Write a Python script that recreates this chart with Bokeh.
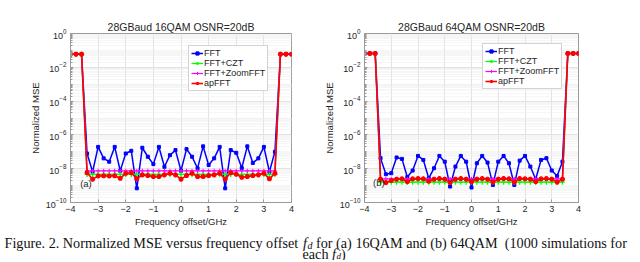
from bokeh.plotting import figure
from bokeh.layouts import row, column
from bokeh.models import FixedTicker, LogTickFormatter, Legend, LegendItem, Label, Range1d
from bokeh.embed import file_html
from bokeh.resources import INLINE

# ---------------- data ----------------
freq_ghz = [-4.0, -3.8, -3.6, -3.4, -3.2, -3.0, -2.8, -2.6, -2.4, -2.2, -2.0,
            -1.8, -1.6, -1.4, -1.2, -1.0, -0.8, -0.6, -0.4, -0.2, 0.0,
            0.2, 0.4, 0.6, 0.8, 1.0, 1.2, 1.4, 1.6, 1.8, 2.0,
            2.2, 2.4, 2.6, 2.8, 3.0, 3.2, 3.4, 3.6, 3.8, 4.0]

x_tick_values = [-4, -3, -2, -1, 0, 1, 2, 3, 4]
y_tick_values = [1e-10, 1e-8, 1e-6, 1e-4, 1e-2, 1e0]
series_names = ["FFT", "FFT+CZT", "FFT+ZoomFFT", "apFFT"]
titles = ["28GBaud 16QAM OSNR=20dB", "28GBaud 64QAM OSNR=20dB"]
panel_tags = ["(a)", "(b)"]
x_label = "Frequency offset/GHz"
y_label = "Normalized MSE"

# (a) 16QAM
fft_16 = [6.0e-2, 6.0e-2, 6.0e-2, 7.9e-8, 6.6e-9, 1.95e-7, 4.1e-8, 2.6e-8, 1.95e-7, 7.6e-9, 7.9e-8,
          1.15e-7, 6.9e-10, 1.74e-7, 5.1e-8, 1.86e-8, 1.95e-7, 1.3e-8, 6.3e-8, 1.26e-7, 7.6e-9,
          1.44e-7, 5.1e-8, 1.05e-8, 2.1e-7, 1.65e-8, 4.1e-8, 1.95e-7, 6.9e-10, 1.26e-7, 8.7e-8,
          1.1e-8, 2.1e-7, 2.2e-8, 4.1e-8, 1.95e-7, 6.6e-9, 1.0e-7, 6.0e-2, 6.0e-2, 6.0e-2]
czt_16 = [6.0e-2, 6.0e-2, 6.0e-2, 4.6e-9, 4.6e-9, 4.6e-9, 4.6e-9, 4.6e-9, 4.6e-9, 4.6e-9, 4.6e-9,
          4.6e-9, 4.6e-9, 4.6e-9, 4.6e-9, 4.6e-9, 4.6e-9, 4.6e-9, 4.6e-9, 4.6e-9, 4.6e-9,
          4.6e-9, 4.6e-9, 4.6e-9, 4.6e-9, 4.6e-9, 4.6e-9, 4.6e-9, 4.6e-9, 4.6e-9, 4.6e-9,
          4.6e-9, 4.6e-9, 4.6e-9, 4.6e-9, 4.6e-9, 4.6e-9, 4.6e-9, 6.0e-2, 6.0e-2, 6.0e-2]
zoom_16 = [6.0e-2, 6.0e-2, 6.0e-2, 7.5e-9, 7.5e-9, 7.5e-9, 7.5e-9, 7.5e-9, 7.5e-9, 7.5e-9, 7.5e-9,
           7.5e-9, 7.5e-9, 7.5e-9, 7.5e-9, 7.5e-9, 7.5e-9, 7.5e-9, 7.5e-9, 7.5e-9, 7.5e-9,
           7.5e-9, 7.5e-9, 7.5e-9, 7.5e-9, 7.5e-9, 7.5e-9, 7.5e-9, 7.5e-9, 7.5e-9, 7.5e-9,
           7.5e-9, 7.5e-9, 7.5e-9, 7.5e-9, 7.5e-9, 7.5e-9, 7.5e-9, 6.0e-2, 6.0e-2, 6.0e-2]
ap_16 = [6.0e-2, 6.0e-2, 6.0e-2, 5.8e-9, 2.4e-9, 3.7e-9, 3.8e-9, 3.7e-9, 3.8e-9, 2.7e-9, 5.3e-9,
         5.8e-9, 2.5e-9, 4.3e-9, 3.9e-9, 3.4e-9, 3.4e-9, 4.3e-9, 5.3e-9, 4.3e-9, 2.4e-9,
         3.9e-9, 5.3e-9, 3.4e-9, 3.4e-9, 3.9e-9, 4.3e-9, 5.3e-9, 2.4e-9, 5.8e-9, 4.7e-9,
         3.1e-9, 3.4e-9, 3.9e-9, 4.3e-9, 5.3e-9, 2.5e-9, 5.3e-9, 6.0e-2, 6.0e-2, 6.0e-2]

# (b) 64QAM
fft_64 = [6.6e-2, 6.6e-2, 6.6e-2, 4.2e-8, 4.7e-9, 5.4e-9, 4.6e-8, 3.8e-8, 3.2e-9, 7.8e-9, 5.7e-8,
          3.3e-8, 2.7e-9, 1.07e-8, 5.7e-8, 2.6e-8, 8.8e-10, 1.34e-8, 5.7e-8, 2.6e-8, 7.7e-10,
          2.1e-8, 5.7e-8, 2.3e-8, 1.1e-9, 2.6e-8, 5.7e-8, 2.1e-8, 1.1e-9, 3.0e-8, 5.7e-8,
          1.34e-8, 2.4e-9, 3.3e-8, 4.2e-8, 7.8e-9, 3.7e-9, 2.6e-8, 6.6e-2, 6.6e-2, 6.6e-2]
czt_64 = [6.6e-2, 6.6e-2, 6.6e-2, 1.6e-9, 1.6e-9, 1.6e-9, 1.6e-9, 1.6e-9, 1.6e-9, 1.6e-9, 1.6e-9,
          1.6e-9, 1.6e-9, 1.6e-9, 1.6e-9, 1.6e-9, 1.6e-9, 1.6e-9, 1.6e-9, 1.6e-9, 1.6e-9,
          1.6e-9, 1.6e-9, 1.6e-9, 1.6e-9, 1.6e-9, 1.6e-9, 1.6e-9, 1.6e-9, 1.6e-9, 1.6e-9,
          1.6e-9, 1.6e-9, 1.6e-9, 1.6e-9, 1.6e-9, 1.6e-9, 1.6e-9, 6.6e-2, 6.6e-2, 6.6e-2]
zoom_64 = [6.6e-2, 6.6e-2, 6.6e-2, 2.5e-9, 2.5e-9, 2.5e-9, 2.5e-9, 2.5e-9, 2.5e-9, 2.5e-9, 2.5e-9,
           2.5e-9, 2.5e-9, 2.5e-9, 2.5e-9, 2.5e-9, 2.5e-9, 2.5e-9, 2.5e-9, 2.5e-9, 2.5e-9,
           2.5e-9, 2.5e-9, 2.5e-9, 2.5e-9, 2.5e-9, 2.5e-9, 2.5e-9, 2.5e-9, 2.5e-9, 2.5e-9,
           2.5e-9, 2.5e-9, 2.5e-9, 2.5e-9, 2.5e-9, 2.5e-9, 2.5e-9, 6.6e-2, 6.6e-2, 6.6e-2]
ap_64 = [6.6e-2, 6.6e-2, 6.6e-2, 2.4e-9, 1.5e-9, 2.0e-9, 2.4e-9, 2.5e-9, 1.7e-9, 2.5e-9, 2.6e-9,
         2.5e-9, 1.8e-9, 2.4e-9, 2.6e-9, 2.4e-9, 1.5e-9, 2.4e-9, 2.6e-9, 2.4e-9, 1.7e-9,
         2.4e-9, 2.6e-9, 2.4e-9, 1.6e-9, 2.4e-9, 2.6e-9, 2.5e-9, 1.6e-9, 2.6e-9, 2.5e-9,
         2.4e-9, 1.7e-9, 2.5e-9, 2.6e-9, 2.4e-9, 1.6e-9, 2.4e-9, 6.6e-2, 6.6e-2, 6.6e-2]

caption_1a = "Figure. 2. Normalized MSE versus frequency offset"
caption_1b = "for (a) 16QAM and (b) 64QAM\u00a0 (1000 simulations for"
caption_2 = "each"

# ---------------- styling ----------------
SANS = "Liberation Sans"
SERIF = "Liberation Serif"
TXT = "#262626"
AX = "#9a9a9a"
GRID = "#e2e2e2"

y_minor = [m * 10.0 ** k for k in range(-10, 0) for m in range(1, 10)
           if not (m == 1 and k % 2 == 0)]


def make_panel(title, fft, czt, zoom, ap, left, right, tag, tag_x, tag_y, leg_loc):
    p = figure(width=320, height=229, x_range=Range1d(-4, 4), y_range=Range1d(1e-10, 1),
               y_axis_type="log", output_backend="svg", toolbar_location=None,
               min_border_left=left, min_border_right=right,
               min_border_top=33, min_border_bottom=26,
               background_fill_color="white", border_fill_color="white")
    p.title.text = title
    p.title.align = "center"
    p.title.text_font = SANS
    p.title.text_font_size = "10.5px"
    p.title.text_font_style = "normal"
    p.title.text_color = TXT
    p.title.standoff = 2

    p.xaxis.ticker = FixedTicker(ticks=x_tick_values)
    p.yaxis.ticker = FixedTicker(ticks=y_tick_values, minor_ticks=y_minor)
    p.yaxis.formatter = LogTickFormatter()
    p.xaxis.axis_label = x_label
    p.yaxis.axis_label = y_label
    for ax in (p.xaxis, p.yaxis):
        ax.axis_label_text_font = SANS
        ax.axis_label_text_font_size = "9.5px"
        ax.axis_label_text_font_style = "normal"
        ax.axis_label_text_color = TXT
        ax.major_label_text_font = SANS
        ax.major_label_text_font_size = "9px"
        ax.major_label_text_color = TXT
        ax.axis_line_color = AX
        ax.major_tick_line_color = AX
        ax.major_tick_in = 3
        ax.major_tick_out = 0
        ax.minor_tick_line_color = AX
        ax.minor_tick_in = 2
        ax.minor_tick_out = 0
        ax.major_label_standoff = 4
        ax.axis_label_standoff = 2
    p.xaxis.major_label_standoff = 3
    p.xaxis.axis_label_standoff = 1
    p.outline_line_color = AX
    p.outline_line_width = 1

    p.xgrid.grid_line_color = GRID
    p.ygrid.grid_line_color = GRID
    p.ygrid.minor_grid_line_color = "#ececec"
    p.ygrid.minor_grid_line_dash = "1 1"

    l1 = p.line(freq_ghz, fft, line_color="#0000ff", line_width=1.5)
    m1 = p.scatter(freq_ghz, fft, marker="square", size=3, fill_color="#0000ff", line_color="#0000ff")
    l2 = p.line(freq_ghz, czt, line_color="#00ff00", line_width=1.3)
    m2 = p.scatter(freq_ghz, czt, marker="cross", size=5, line_color="#00ff00", line_width=1.3)
    l3 = p.line(freq_ghz, zoom, line_color="#ff00ff", line_width=1.2)
    m3 = p.scatter(freq_ghz, zoom, marker="cross", size=4, line_color="#ff00ff", line_width=1)
    l4 = p.line(freq_ghz, ap, line_color="#ff0000", line_width=1.6)
    m4 = p.scatter(freq_ghz, ap, marker="asterisk", size=5, line_color="#ff0000", line_width=1.6)

    legend = Legend(items=[LegendItem(label=series_names[0], renderers=[l1, m1]),
                           LegendItem(label=series_names[1], renderers=[l2, m2]),
                           LegendItem(label=series_names[2], renderers=[l3, m3]),
                           LegendItem(label=series_names[3], renderers=[l4, m4])],
                    location=leg_loc)
    legend.label_text_font = SANS
    legend.label_text_font_size = "9px"
    legend.label_text_color = TXT
    legend.label_height = 8
    legend.glyph_height = 8
    legend.glyph_width = 12
    legend.label_standoff = 1
    legend.spacing = 0
    legend.padding = 2
    legend.margin = 0
    legend.border_line_color = "#a8a8a8"
    legend.border_line_width = 1
    legend.background_fill_color = "white"
    legend.background_fill_alpha = 1
    p.add_layout(legend)

    p.add_layout(Label(x=tag_x, y=tag_y, text=tag, text_font=SANS, text_font_size="9.5px",
                       text_color=TXT, text_baseline="middle", text_align="left"))
    return p


f1 = make_panel(titles[0], fft_16, czt_16, zoom_16, ap_16, 70, 29, panel_tags[0], -3.65, 1.3e-9, (118, 111))
f2 = make_panel(titles[1], fft_64, czt_64, zoom_64, ap_64, 38, 62, panel_tags[1], -3.68, 1.5e-9, (118, 113))

CAP_H = 31
cap = figure(width=640, height=CAP_H, x_range=Range1d(0, 640), y_range=Range1d(CAP_H, 0),
             title=None, output_backend="svg", toolbar_location=None, min_border=0,
             x_axis_location=None, y_axis_location=None, outline_line_color=None,
             background_fill_color="white", border_fill_color="white")
cap.grid.visible = False
CS = "14.2px"
for txt, x, y, size, style in [
        (caption_1a, 4, 13.0, CS, "normal"),
        ("f", 302.5, 13.0, CS, "italic"),
        ("d", 307.0, 15.5, "10px", "italic"),
        (caption_1b, 315.5, 13.0, CS, "normal"),
        (caption_2, 302, 24.5, CS, "normal"),
        ("f", 331.5, 24.5, CS, "italic"),
        ("d", 336.0, 26.0, "9px", "italic"),
        (")", 340.5, 24.5, CS, "normal")]:
    cap.add_layout(Label(x=x, y=y, text=txt, text_font=SERIF, text_font_size=size,
                         text_font_style=style, text_color="#111111",
                         text_baseline="alphabetic", text_align="left"))

layout = column(row(f1, f2, spacing=0), cap, spacing=0)

open("out.html", "w").write(file_html(layout, INLINE))
